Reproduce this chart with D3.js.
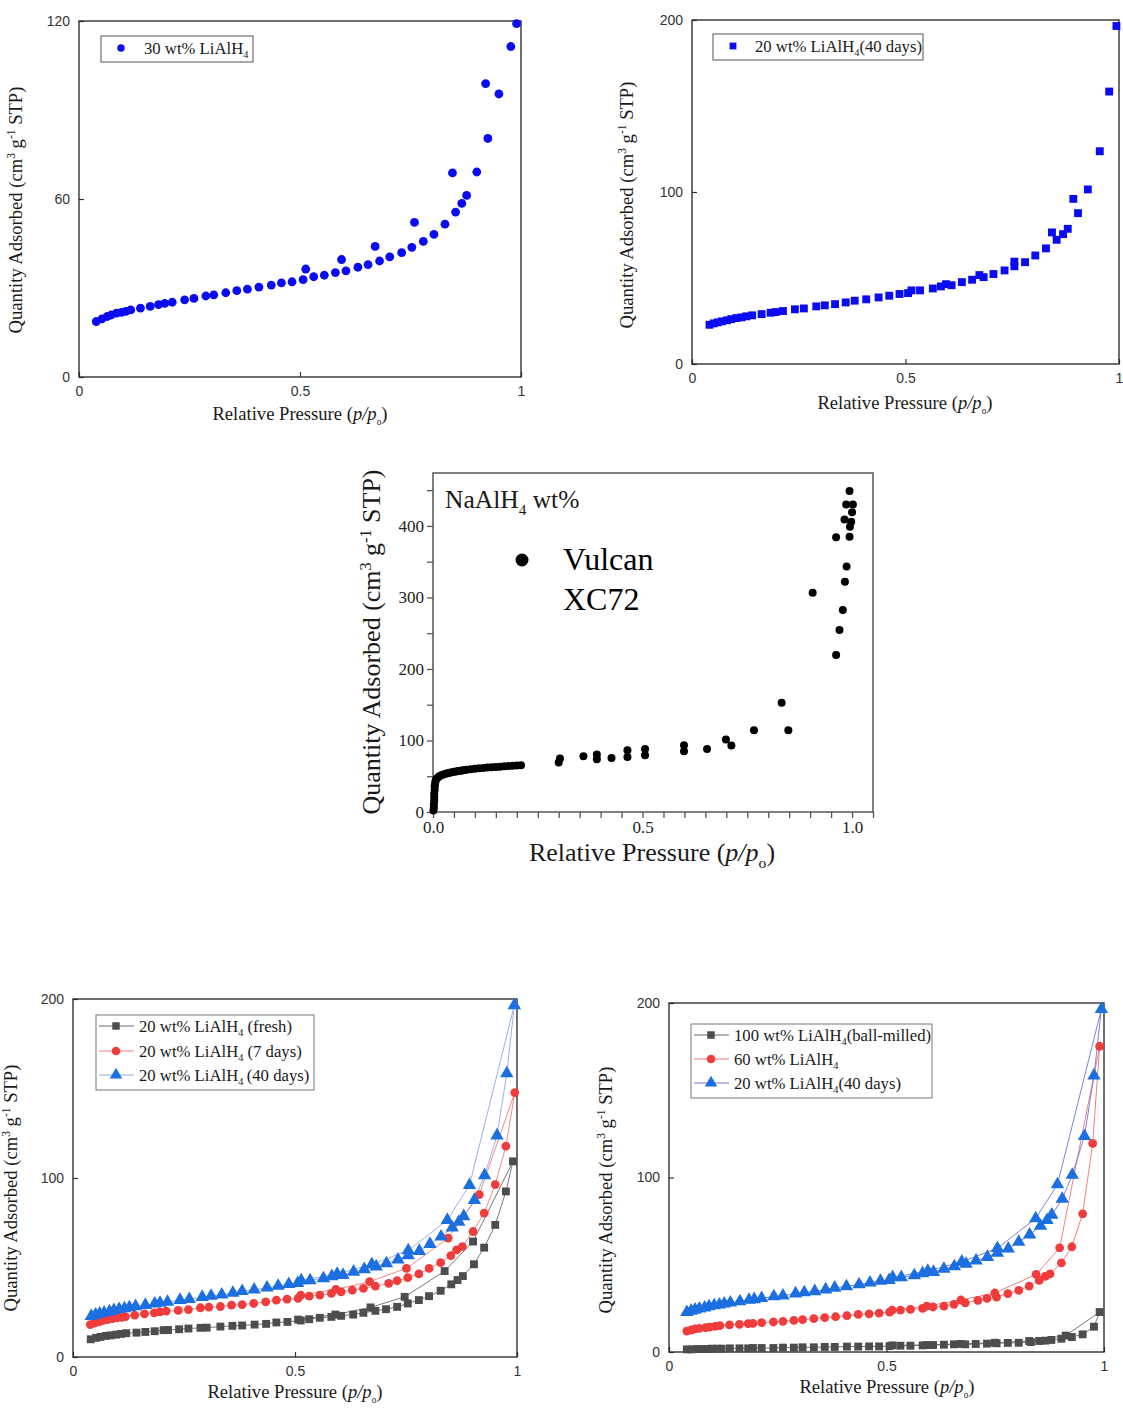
<!DOCTYPE html>
<html>
<head>
<meta charset="utf-8">
<script src="https://cdn.jsdelivr.net/npm/d3@7"></script>
<style>
  body { margin: 0; background: #fff; }
  svg { display: block; }
</style>
</head>
<body>
<svg id="fig" width="1123" height="1411"></svg>
<script>
// ---------- N2 isotherm data: [p/p0, quantity adsorbed (cm3/g STP)] ----------

// 30 wt% LiAlH4
const li30Ads = [[0.039,18.7],[0.052,19.6],[0.064,20.4],[0.073,20.9],[0.085,21.5],[0.096,21.8],[0.106,22.1],[0.117,22.6],[0.139,23.2],[0.161,23.8],[0.180,24.4],[0.194,24.8],[0.211,25.2],[0.239,26.0],[0.260,26.5],[0.287,27.3],[0.305,27.7],[0.332,28.4],[0.357,29.1],[0.381,29.6],[0.407,30.3],[0.435,31.0],[0.458,31.7],[0.482,32.1],[0.507,32.8],[0.531,33.8],[0.555,34.3],[0.580,35.2],[0.604,35.8],[0.631,37.0],[0.654,37.9],[0.680,39.1],[0.703,40.5],[0.730,41.9],[0.753,43.7],[0.779,45.7],[0.803,48.1],[0.828,51.5],[0.852,55.6],[0.866,58.5],[0.877,61.2],[0.900,69.1],[0.925,80.4],[0.950,95.4],[0.977,111.4],[0.990,119.1]];
const li30Des = [[0.920,98.9],[0.845,68.8],[0.759,52.1],[0.670,44.0],[0.594,39.6],[0.513,36.4]];

// 20 wt% LiAlH4 (40 days)
const li20d40Ads = [[0.041,22.8],[0.051,23.6],[0.060,24.2],[0.070,24.8],[0.082,25.4],[0.092,26.1],[0.104,26.7],[0.116,27.1],[0.127,27.7],[0.141,28.3],[0.163,29.0],[0.184,29.8],[0.196,30.2],[0.213,30.8],[0.241,31.8],[0.262,32.3],[0.291,33.5],[0.311,34.1],[0.335,34.8],[0.360,35.8],[0.381,36.8],[0.408,37.6],[0.437,38.7],[0.462,39.7],[0.486,40.7],[0.506,41.2],[0.534,42.8],[0.564,43.9],[0.583,45.1],[0.608,45.8],[0.632,47.6],[0.656,49.0],[0.683,50.5],[0.706,52.3],[0.732,54.4],[0.755,56.8],[0.780,59.2],[0.804,63.1],[0.829,67.2],[0.854,72.2],[0.869,75.5],[0.880,78.6],[0.904,87.7],[0.927,101.5],[0.955,123.7],[0.977,158.4],[0.994,196.5]];
const li20d40Des = [[0.893,96.0],[0.843,76.5],[0.755,59.5],[0.673,51.7],[0.595,46.4],[0.514,42.8]];

// 20 wt% LiAlH4 (fresh)
const li20FreshAds = [[0.040,9.9],[0.052,10.7],[0.062,11.2],[0.074,11.8],[0.085,12.1],[0.097,12.5],[0.108,12.9],[0.120,13.3],[0.143,13.6],[0.163,14.0],[0.184,14.4],[0.204,15.0],[0.214,15.1],[0.239,15.5],[0.260,15.9],[0.287,16.3],[0.301,16.4],[0.332,17.0],[0.359,17.4],[0.381,17.6],[0.409,18.1],[0.435,18.5],[0.458,19.3],[0.483,19.6],[0.513,20.4],[0.532,21.1],[0.556,21.9],[0.582,22.4],[0.604,23.0],[0.631,23.7],[0.654,24.7],[0.681,25.8],[0.705,26.7],[0.730,28.0],[0.754,29.9],[0.779,31.8],[0.802,34.0],[0.828,37.0],[0.852,40.6],[0.866,43.0],[0.878,45.2],[0.903,51.8],[0.926,61.1],[0.951,73.8],[0.975,92.5],[0.991,109.3]];
const li20FreshDes = [[0.901,64.5],[0.837,48.0],[0.747,33.6],[0.670,27.7],[0.591,23.7],[0.507,20.9]];

// 20 wt% LiAlH4 (7 days)
const li20d7Ads = [[0.039,18.1],[0.048,18.9],[0.058,19.6],[0.068,20.4],[0.078,20.9],[0.089,21.5],[0.099,21.9],[0.110,22.2],[0.118,22.6],[0.139,23.4],[0.161,24.1],[0.183,24.7],[0.196,25.2],[0.210,25.6],[0.237,26.0],[0.260,26.5],[0.287,27.5],[0.306,27.9],[0.332,28.2],[0.357,29.0],[0.381,29.3],[0.407,29.9],[0.434,30.8],[0.458,31.8],[0.482,32.3],[0.507,32.7],[0.532,34.0],[0.556,34.6],[0.582,35.5],[0.604,36.4],[0.629,37.4],[0.654,38.3],[0.681,39.6],[0.711,41.1],[0.730,42.6],[0.754,44.3],[0.779,46.4],[0.802,49.5],[0.828,52.7],[0.851,56.6],[0.864,59.8],[0.877,61.7],[0.901,70.1],[0.926,80.4],[0.951,96.3],[0.975,117.8],[0.995,147.7]];
const li20d7Des = [[0.915,90.7],[0.845,66.4],[0.751,49.5],[0.668,42.1],[0.592,37.8],[0.513,34.6]];

// 60 wt% LiAlH4
const li60Ads = [[0.041,12.0],[0.051,12.6],[0.060,13.2],[0.070,13.5],[0.084,13.9],[0.093,14.3],[0.106,14.7],[0.117,15.1],[0.139,15.5],[0.162,15.8],[0.182,16.2],[0.193,16.4],[0.213,16.8],[0.240,17.2],[0.262,17.6],[0.287,18.1],[0.307,18.5],[0.333,19.1],[0.358,19.7],[0.383,20.2],[0.409,20.8],[0.435,21.6],[0.460,21.9],[0.483,22.3],[0.507,22.9],[0.532,24.0],[0.555,24.4],[0.583,25.0],[0.607,25.8],[0.632,26.3],[0.655,27.3],[0.681,28.2],[0.710,29.6],[0.731,30.7],[0.753,31.5],[0.779,33.4],[0.804,35.3],[0.828,37.8],[0.851,41.0],[0.865,43.3],[0.876,44.8],[0.902,51.1],[0.926,60.3],[0.951,79.2],[0.974,119.5],[0.990,175.2]];
const li60Des = [[0.898,59.7],[0.844,44.5],[0.749,33.8],[0.671,29.8],[0.593,26.3],[0.513,24.0]];

// 100 wt% LiAlH4 (ball-milled)
const li100Ads = [[0.041,1.5],[0.052,1.5],[0.064,1.7],[0.076,1.7],[0.088,1.7],[0.098,1.9],[0.111,1.9],[0.121,1.9],[0.140,2.1],[0.162,2.1],[0.182,2.1],[0.193,2.3],[0.213,2.3],[0.240,2.3],[0.262,2.5],[0.287,2.5],[0.307,2.7],[0.333,2.7],[0.358,2.9],[0.381,2.9],[0.409,3.1],[0.435,3.1],[0.460,3.2],[0.483,3.2],[0.507,3.4],[0.532,3.6],[0.555,3.6],[0.583,3.8],[0.607,4.0],[0.632,4.2],[0.655,4.4],[0.681,4.4],[0.705,4.6],[0.731,4.8],[0.753,5.0],[0.779,5.2],[0.804,5.3],[0.832,5.7],[0.851,6.3],[0.865,6.5],[0.879,6.9],[0.902,7.6],[0.926,8.6],[0.951,10.1],[0.977,14.5],[0.990,22.9]];
const li100Des = [[0.912,9.4],[0.828,6.3],[0.749,5.3],[0.671,4.6],[0.593,4.0],[0.514,3.8]];

// Vulcan XC72 carbon
const vulcan = [[0.001,2],[0.002,6],[0.002,11],[0.003,16],[0.003,21],[0.003,26],[0.004,31],[0.004,36],[0.005,40],[0.006,43],[0.008,46],[0.011,48],[0.015,50],[0.020,51.5],[0.025,52.5],[0.030,53.5],[0.035,54.3],[0.040,55],[0.045,55.6],[0.050,56.2],[0.055,56.8],[0.060,57.3],[0.065,57.8],[0.070,58.2],[0.075,58.6],[0.080,59],[0.090,59.8],[0.100,60.4],[0.110,61],[0.120,61.6],[0.130,62.1],[0.140,62.6],[0.150,63],[0.160,63.4],[0.170,63.8],[0.180,64.2],[0.190,64.6],[0.200,65],[0.210,65.4],
  [0.300,69.1],[0.303,74.7],[0.359,77.9],[0.391,80.3],[0.391,73.7],[0.426,75.6],[0.464,86.3],[0.464,77.0],[0.506,88.2],[0.506,79.3],[0.599,93.3],[0.599,84.9],[0.654,88.2],[0.699,101.3],[0.712,92.9],[0.766,114.4],[0.832,152.6],[0.848,114.4],[0.906,306.6],[0.962,219.4],[0.970,254.4],[0.978,282.4],[0.983,322.1],[0.987,343.1],[0.962,384.1],[0.994,449],[0.986,430],[1.002,430],[1.000,419],[0.982,409],[0.998,406],[0.995,399],[0.994,385]];

// tick values
const pTicks = [0, 0.5, 1];
const qTicks120 = [0, 60, 120];
const qTicks200 = [0, 100, 200];
const vulcanPTicks = d3.range(0, 1.0501, 0.05);
const vulcanQTicks = d3.range(0, 451, 50);

// ---------- drawing ----------
const svg = d3.select("#fig");
const SERIF = "'Liberation Serif', 'Times New Roman', serif";
const SANS = "'Liberation Sans', Arial, sans-serif";
const LEG = 16.7;

// write text made of normal / superscript / subscript / italic runs
function rich(text, parts, size) {
  let shift = 0;
  parts.forEach(p => {
    const target = p.sup ? -0.36 * size : (p.sub ? 0.26 * size : 0);
    const ts = text.append("tspan").text(p.t).attr("dy", target - shift);
    if (p.sup || p.sub) ts.attr("font-size", (p.small || 0.62) * size);
    if (p.it) ts.attr("font-style", "italic");
    shift = target;
  });
}

const yTitleParts = [{t:"Quantity Adsorbed (cm"},{t:"3",sup:true},{t:" g"},{t:"-1",sup:true},{t:" STP)"}];

function yTitle(cx, cy, size) {
  const t = svg.append("text")
    .attr("transform", `translate(${cx},${cy}) rotate(-90)`)
    .attr("text-anchor", "middle").attr("dy", "0.35em")
    .attr("font-family", SERIF).attr("font-size", size).attr("fill", "#1a1a1a");
  rich(t, yTitleParts, size);
}

function xTitle(cx, cy, size, subSmall) {
  const t = svg.append("text")
    .attr("x", cx).attr("y", cy)
    .attr("text-anchor", "middle").attr("dy", "0.35em")
    .attr("font-family", SERIF).attr("font-size", size).attr("fill", "#1a1a1a");
  rich(t, [{t:"Relative Pressure ("},{t:"p/p",it:true},{t:"o",sub:true,small:subSmall},{t:")"}], size);
}

// Origin-style framed panel with inward ticks
function framePanel(o) {
  const g = svg.append("g").attr("transform", `translate(${o.left},${o.top})`);
  const w = o.right - o.left, h = o.bottom - o.top;
  const x = d3.scaleLinear().domain([0, 1]).range([0, w]);
  const y = d3.scaleLinear().domain([0, o.yMax]).range([h, 0]);
  const xa = g.append("g").attr("transform", `translate(0,${h})`)
    .call(d3.axisBottom(x).tickValues(pTicks).tickSize(-5).tickPadding(9).tickFormat(d3.format("~g")));
  const ya = g.append("g")
    .call(d3.axisLeft(y).tickValues(o.yTicks).tickSize(-5).tickPadding(9).tickFormat(d3.format("~g")));
  [xa, ya].forEach(a => {
    a.select(".domain").remove();
    a.selectAll("line").attr("stroke", "#333").attr("stroke-width", 1.2);
    a.selectAll("text").attr("font-family", SANS).attr("font-size", 14).attr("fill", "#333");
  });
  g.append("rect").attr("width", w).attr("height", h)
    .attr("fill", "none").attr("stroke", "#222").attr("stroke-width", 1.3);
  return { g, x, y };
}

const shapes = { square: d3.symbolSquare, circle: d3.symbolCircle, triangle: d3.symbolTriangle };
const sizes = { square: 62, circle: 58, triangle: 62 };

function marker(sel, shape, color, scale) {
  return sel.append("path")
    .attr("d", d3.symbol().type(shapes[shape]).size(sizes[shape] * (scale || 1))())
    .attr("fill", color);
}

// connecting line: adsorption branch up, then desorption branch back down
function drawSeries(p, s) {
  const pts = s.ads.concat(s.des);
  if (s.line) {
    p.g.append("path")
      .attr("d", d3.line().x(d => p.x(d[0])).y(d => p.y(d[1]))(pts))
      .attr("fill", "none").attr("stroke", s.line).attr("stroke-width", 0.9);
  }
}

function drawMarkers(p, s) {
  s.ads.concat(s.des).forEach(d => {
    marker(p.g, s.shape, s.color, s.scale).attr("transform", `translate(${p.x(d[0])},${p.y(d[1])})`);
  });
}

// ---------- panel (a): 30 wt% LiAlH4 ----------
{
  const p = framePanel({ left: 79, right: 521, top: 21, bottom: 377, yMax: 120, yTicks: qTicks120 });
  drawMarkers(p, { ads: li30Ads, des: li30Des, shape: "circle", color: "#0b0bf2", scale: 1.05 });
  svg.append("rect").attr("x", 101).attr("y", 36).attr("width", 152).attr("height", 26)
    .attr("fill", "#fff").attr("stroke", "#555").attr("stroke-width", 1);
  marker(svg, "circle", "#0b0bf2", 0.75).attr("transform", "translate(121,48)");
  const t = svg.append("text").attr("x", 144).attr("y", 54)
    .attr("font-family", SERIF).attr("font-size", LEG).attr("fill", "#1a1a1a");
  rich(t, [{t:"30 wt% LiAlH"},{t:"4",sub:true}], LEG);
  yTitle(22, 210, 18.6);
  xTitle(300, 420, 18.6, 0.5);
}

// ---------- panel (b): 20 wt% LiAlH4 (40 days) ----------
{
  const p = framePanel({ left: 692, right: 1119, top: 20, bottom: 364, yMax: 200, yTicks: qTicks200 });
  drawMarkers(p, { ads: li20d40Ads, des: li20d40Des, shape: "square", color: "#0b0bf2", scale: 1.0 });
  svg.append("rect").attr("x", 713).attr("y", 34).attr("width", 210).attr("height", 26)
    .attr("fill", "#fff").attr("stroke", "#555").attr("stroke-width", 1);
  marker(svg, "square", "#0b0bf2", 0.75).attr("transform", "translate(733,46)");
  const t = svg.append("text").attr("x", 755).attr("y", 52)
    .attr("font-family", SERIF).attr("font-size", LEG).attr("fill", "#1a1a1a");
  rich(t, [{t:"20 wt% LiAlH"},{t:"4",sub:true},{t:"(40 days)"}], LEG);
  yTitle(633, 205, 18.6);
  xTitle(905, 409, 18.6, 0.5);
}

// ---------- panel (c): Vulcan XC72 ----------
{
  const left = 433, right = 873, top = 473, bottom = 812;
  const g = svg.append("g").attr("transform", `translate(${left},${top})`);
  const w = right - left, h = bottom - top;
  const x = d3.scaleLinear().domain([0, 1.05]).range([0, w]);
  const y = d3.scaleLinear().domain([0, 474]).range([h, 0]);
  const fmtX = d => (Math.abs(d % 0.5) < 1e-6 || Math.abs(d % 0.5 - 0.5) < 1e-6) ? d3.format(".1f")(d) : "";
  const fmtY = d => d % 100 === 0 ? String(d) : "";
  const xa = g.append("g").attr("transform", `translate(0,${h})`)
    .call(d3.axisBottom(x).tickValues(vulcanPTicks).tickSize(6).tickPadding(3).tickFormat(fmtX));
  const ya = g.append("g")
    .call(d3.axisLeft(y).tickValues(vulcanQTicks).tickSize(6).tickPadding(3).tickFormat(fmtY));
  [xa, ya].forEach(a => {
    a.select(".domain").remove();
    a.selectAll("line").attr("stroke", "#555").attr("stroke-width", 1.3);
    a.selectAll("text").attr("font-family", SERIF).attr("font-size", 17).attr("fill", "#222");
  });
  g.append("rect").attr("width", w).attr("height", h)
    .attr("fill", "none").attr("stroke", "#555").attr("stroke-width", 1.5);
  vulcan.forEach(d => {
    g.append("circle").attr("cx", x(d[0])).attr("cy", y(d[1])).attr("r", 4).attr("fill", "#000");
  });
  const t = svg.append("text").attr("x", 445).attr("y", 508)
    .attr("font-family", SERIF).attr("font-size", 25.5).attr("fill", "#1a1a1a");
  rich(t, [{t:"NaAlH"},{t:"4",sub:true,small:0.6},{t:" wt%"}], 25.5);
  svg.append("circle").attr("cx", 522).attr("cy", 560).attr("r", 6.5).attr("fill", "#000");
  svg.append("text").attr("x", 563).attr("y", 570).text("Vulcan")
    .attr("font-family", SERIF).attr("font-size", 32).attr("fill", "#000");
  svg.append("text").attr("x", 563).attr("y", 610).text("XC72")
    .attr("font-family", SERIF).attr("font-size", 32).attr("fill", "#000");
  yTitle(380, 642, 26);
  xTitle(652, 861, 26, 0.6);
}

// ---------- legends for the lower panels ----------
function lineLegend(x0, y0, w, rowY, items) {
  svg.append("rect").attr("x", x0).attr("y", y0).attr("width", w).attr("height", rowY[2] - y0 + 15)
    .attr("fill", "#fff").attr("stroke", "#777").attr("stroke-width", 1);
  items.forEach((it, i) => {
    const yy = rowY[i];
    svg.append("line").attr("x1", x0 + 3).attr("x2", x0 + 38).attr("y1", yy).attr("y2", yy)
      .attr("stroke", it.line).attr("stroke-width", 1);
    marker(svg, it.shape, it.color, it.scale).attr("transform", `translate(${x0 + 20},${yy})`);
    const t = svg.append("text").attr("x", x0 + 43).attr("y", yy + 6)
      .attr("font-family", SERIF).attr("font-size", LEG).attr("fill", "#1a1a1a");
    rich(t, it.label, LEG);
  });
}

// ---------- panel (d): ageing of 20 wt% LiAlH4 ----------
{
  const p = framePanel({ left: 73, right: 517, top: 999, bottom: 1357, yMax: 200, yTicks: qTicks200 });
  const series = [
    { ads: li20FreshAds, des: li20FreshDes, shape: "square", color: "#4d4d4d", line: "#6a6a6a", scale: 1.0 },
    { ads: li20d7Ads, des: li20d7Des, shape: "circle", color: "#f03c3c", line: "#f27c7c", scale: 1.05 },
    { ads: li20d40Ads, des: li20d40Des, shape: "triangle", color: "#1c6fe0", line: "#8fa6ee", scale: 1.25 }
  ];
  series.forEach(s => drawSeries(p, s));
  series.forEach(s => drawMarkers(p, s));
  lineLegend(96, 1015, 218, [1026, 1051, 1075], [
    { shape: "square", color: "#4d4d4d", line: "#6a6a6a", scale: 0.9, label: [{t:"20 wt% LiAlH"},{t:"4",sub:true},{t:" (fresh)"}] },
    { shape: "circle", color: "#f03c3c", line: "#f27c7c", scale: 1.0, label: [{t:"20 wt% LiAlH"},{t:"4",sub:true},{t:" (7 days)"}] },
    { shape: "triangle", color: "#1c6fe0", line: "#8fa6ee", scale: 1.1, label: [{t:"20 wt% LiAlH"},{t:"4",sub:true},{t:"\u2009(40 days)"}] }
  ]);
  yTitle(17, 1188, 18.6);
  xTitle(295, 1398, 18.6, 0.5);
}

// ---------- panel (e): loading comparison ----------
{
  const p = framePanel({ left: 669, right: 1104, top: 1003, bottom: 1352, yMax: 200, yTicks: qTicks200 });
  const series = [
    { ads: li100Ads, des: li100Des, shape: "square", color: "#4d4d4d", line: "#6a6a6a", scale: 1.0 },
    { ads: li60Ads, des: li60Des, shape: "circle", color: "#f03c3c", line: "#f07272", scale: 1.05 },
    { ads: li20d40Ads, des: li20d40Des, shape: "triangle", color: "#1c6fe0", line: "#7373d8", scale: 1.25 }
  ];
  series.forEach(s => drawSeries(p, s));
  series.forEach(s => drawMarkers(p, s));
  lineLegend(691, 1024, 241, [1035, 1059, 1083], [
    { shape: "square", color: "#4d4d4d", line: "#6a6a6a", scale: 0.9, label: [{t:"100 wt% LiAlH"},{t:"4",sub:true},{t:"(ball-milled)"}] },
    { shape: "circle", color: "#f03c3c", line: "#f07272", scale: 1.0, label: [{t:"60 wt% LiAlH"},{t:"4",sub:true}] },
    { shape: "triangle", color: "#1c6fe0", line: "#7373d8", scale: 1.1, label: [{t:"20 wt% LiAlH"},{t:"4",sub:true},{t:"(40 days)"}] }
  ]);
  yTitle(612, 1190, 18.6);
  xTitle(887, 1393, 18.6, 0.5);
}
</script>
</body>
</html>
